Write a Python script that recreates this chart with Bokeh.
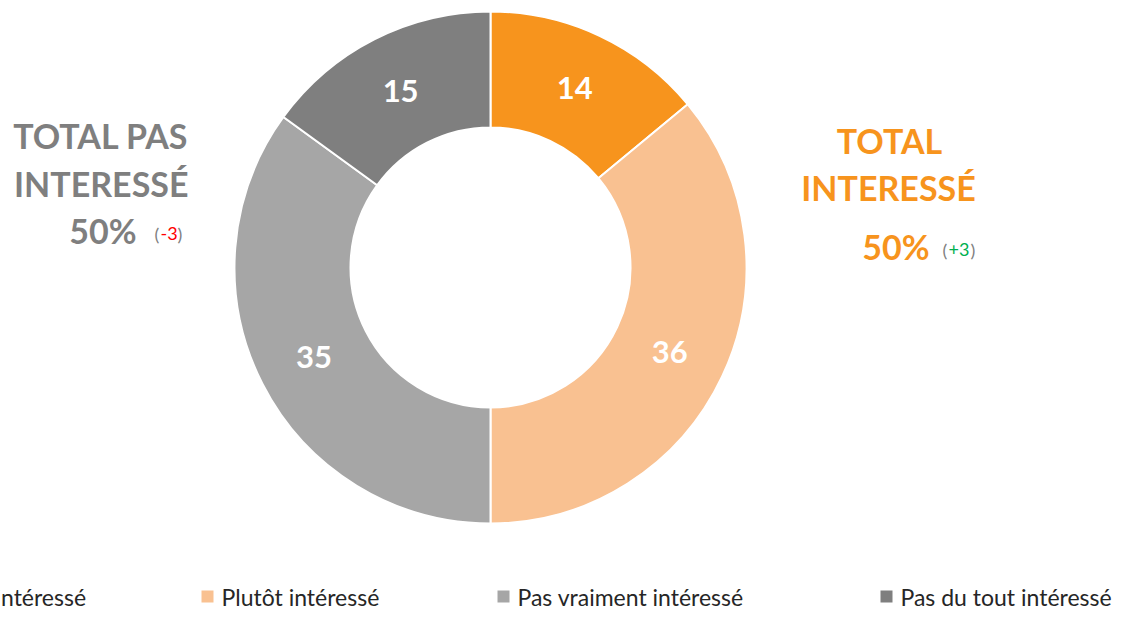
import math
from bokeh.plotting import figure
from bokeh.models import Range1d, ColumnDataSource
from bokeh.core.properties import value
from bokeh.embed import file_html
from bokeh.resources import INLINE

# ---- data ----
categories = ["Très intéressé", "Plutôt intéressé", "Pas vraiment intéressé", "Pas du tout intéressé"]
values = [14, 36, 35, 15]
colors = ["#F7941D", "#F9C191", "#A6A6A6", "#7F7F7F"]
total_labels = ["TOTAL INTERESSÉ", "TOTAL PAS INTERESSÉ"]
total_values = [50, 50]
total_deltas = ["+3", "-3"]

FONT = "Lato"
W, H = 1124, 611
p = figure(width=W, height=H, output_backend="svg", toolbar_location=None,
           x_range=Range1d(0, W), y_range=Range1d(0, H), min_border=0,
           outline_line_color=None)
p.axis.visible = False
p.grid.visible = False

def Y(py):
    return H - py

cx, cy = 490, Y(267)
r_in, r_out = 140, 256
total = sum(values)
# angles: start at top, clockwise
starts, ends, lx, ly = [], [], [], []
acc = 0
for v in values:
    a0 = math.pi / 2 - 2 * math.pi * acc / total
    a1 = math.pi / 2 - 2 * math.pi * (acc + v) / total
    starts.append(a1)
    ends.append(a0)
    mid = (a0 + a1) / 2
    rm = (r_in + r_out) / 2
    lx.append(cx + rm * math.cos(mid))
    ly.append(cy + rm * math.sin(mid))
    acc += v

src = ColumnDataSource(dict(start=starts, end=ends, color=colors,
                            lx=lx, ly=ly, lab=[str(v) for v in values]))
p.annular_wedge(x=cx, y=cy, inner_radius=r_in, outer_radius=r_out,
                start_angle="start", end_angle="end", fill_color="color",
                line_color="white", line_width=2, source=src)
p.text(x="lx", y="ly", text="lab", source=src, text_color="white",
       text_font=value(FONT), text_font_style="bold", text_font_size="31px",
       text_align="center", text_baseline="middle")

ORANGE = "#F7941D"
GREY = "#7F7F7F"
BIG = "34px"
SMALL = "18px"
# right block (interessé)
p.text(x=[889, 888], y=[Y(140), Y(187)], text=["TOTAL", "INTERESSÉ"],
       text_color=ORANGE, text_font=value(FONT), text_font_style="bold",
       text_font_size=BIG, text_align="center", text_baseline="middle")
p.text(x=[929], y=[Y(246)], text=[f"{total_values[0]}%"], text_color=ORANGE,
       text_font=value(FONT), text_font_style="bold", text_font_size=BIG,
       text_align="right", text_baseline="middle")
p.text(x=[942], y=[Y(249)], text=["("], text_color="#808080",
       text_font=value(FONT), text_font_size=SMALL, text_align="left", text_baseline="middle")
p.text(x=[948], y=[Y(249)], text=[total_deltas[0]], text_color="#00B050",
       text_font=value(FONT), text_font_size=SMALL, text_align="left", text_baseline="middle")
p.text(x=[970], y=[Y(249)], text=[")"], text_color="#808080",
       text_font=value(FONT), text_font_size=SMALL, text_align="left", text_baseline="middle")

# left block (pas interessé)
p.text(x=[188, 188], y=[Y(135), Y(183)], text=["TOTAL PAS", "INTERESSÉ"],
       text_color=GREY, text_font=value(FONT), text_font_style="bold",
       text_font_size=BIG, text_align="right", text_baseline="middle")
p.text(x=[136], y=[Y(230)], text=[f"{total_values[1]}%"], text_color=GREY,
       text_font=value(FONT), text_font_style="bold", text_font_size=BIG,
       text_align="right", text_baseline="middle")
p.text(x=[154], y=[Y(233)], text=["("], text_color="#808080",
       text_font=value(FONT), text_font_size=SMALL, text_align="left", text_baseline="middle")
p.text(x=[160], y=[Y(233)], text=[total_deltas[1]], text_color="#FF0000",
       text_font=value(FONT), text_font_size=SMALL, text_align="left", text_baseline="middle")
p.text(x=[177], y=[Y(233)], text=[")"], text_color="#808080",
       text_font=value(FONT), text_font_size=SMALL, text_align="left", text_baseline="middle")

# legend
leg_mx = [-66, 207, 503, 886]
leg_y = Y(596)
p.scatter(x=leg_mx, y=[leg_y] * 4, marker="square", size=12, fill_color=colors,
          line_color=None)
p.text(x=[m + 14 for m in leg_mx], y=[leg_y] * 4, text=categories,
       text_color="#262626", text_font=value(FONT), text_font_size="23px",
       text_align="left", text_baseline="middle")

open("out.html", "w").write(file_html(p, INLINE))
